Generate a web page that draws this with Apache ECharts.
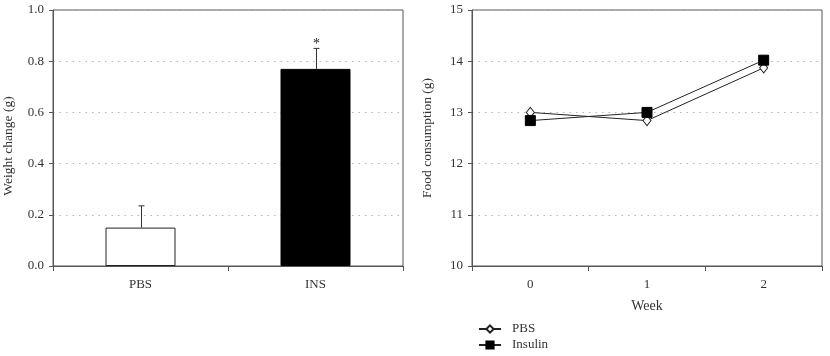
<!DOCTYPE html>
<html>
<head>
<meta charset="utf-8">
<script src="https://cdn.jsdelivr.net/npm/echarts@6/dist/echarts.min.js"></script>
<style>html,body{margin:0;padding:0;background:#fff}#c{width:830px;height:356px}</style>
</head>
<body>
<div id="c"></div>
<script>
// ---- data ----
const barCats = ['PBS', 'INS'];
const weightMean = [0.15, 0.77];
const weightErr = [0.085, 0.08];
const sigMarks = ['', '*'];
const weightTicks = [0.0, 0.2, 0.4, 0.6, 0.8, 1.0];

const weeks = ['0', '1', '2'];
const pbsFood = [13.0, 12.84, 13.87];
const insulinFood = [12.84, 13.0, 14.02];
const foodTicks = [10, 11, 12, 13, 14, 15];

// ---- chart ----
const FONT = '"Liberation Serif", "DejaVu Serif", serif';
const AX = '#555';
const TXT = '#333';
const chart = echarts.init(document.getElementById('c'), null, {renderer: 'canvas'});

const errData = weightMean.map((m, i) => [i, m, weightErr[i], sigMarks[i]]);

const axisLine = {show: true, lineStyle: {color: AX, width: 1}};
const axisTick = {show: true, length: 4, lineStyle: {color: AX, width: 1}};
const splitLine = {show: true, lineStyle: {color: '#b5b5b5', type: [1.5, 5], width: 1.2}};
const label = {color: TXT, fontFamily: FONT, fontSize: 13};

chart.setOption({
  animation: false,
  textStyle: {fontFamily: FONT},
  grid: [
    {left: 53, right: 427, top: 10, bottom: 90, show: true, borderColor: AX, borderWidth: 1, backgroundColor: 'transparent'},
    {left: 472, right: 8, top: 10, bottom: 90, show: true, borderColor: AX, borderWidth: 1, backgroundColor: 'transparent'}
  ],
  legend: {
    orient: 'vertical', left: 478, top: 322, padding: 0,
    itemWidth: 22, itemHeight: 9, itemGap: 2,
    textStyle: {color: TXT, fontFamily: FONT, fontSize: 13, lineHeight: 14, padding: [0, 0, 0, 6]},
    data: ['PBS', 'Insulin']
  },
  xAxis: [
    {type: 'category', gridIndex: 0, data: barCats, boundaryGap: true,
     axisLine, axisTick: {...axisTick, length: 5}, axisLabel: {...label, margin: 12}, splitLine: {show: false}},
    {type: 'category', gridIndex: 1, data: weeks, boundaryGap: true,
     name: 'Week', nameLocation: 'middle', nameGap: 33,
     nameTextStyle: {color: TXT, fontFamily: FONT, fontSize: 14},
     axisLine, axisTick: {...axisTick, length: 5}, axisLabel: {...label, margin: 12}, splitLine: {show: false}}
  ],
  yAxis: [
    {type: 'value', gridIndex: 0, min: weightTicks[0], max: weightTicks[weightTicks.length - 1], interval: 0.2,
     name: 'Weight change (g)', nameLocation: 'middle', nameGap: 38,
     nameTextStyle: {color: TXT, fontFamily: FONT, fontSize: 13.5, padding: [0, 16, 0, 0]},
     axisLine, axisTick, splitLine,
     axisLabel: {...label, margin: 9, formatter: v => v.toFixed(1)}},
    {type: 'value', gridIndex: 1, min: foodTicks[0], max: foodTicks[foodTicks.length - 1], interval: 1,
     name: 'Food consumption (g)', nameLocation: 'middle', nameGap: 38,
     nameTextStyle: {color: TXT, fontFamily: FONT, fontSize: 13.5},
     axisLine, axisTick, splitLine,
     axisLabel: {...label, margin: 9}}
  ],
  series: [
    {type: 'bar', xAxisIndex: 0, yAxisIndex: 0, barWidth: 70, z: 2,
     data: weightMean.map((v, i) => ({value: v,
       itemStyle: i === 0 ? {color: '#fff', borderColor: '#222', borderWidth: 1} : {color: '#000', borderColor: '#000', borderWidth: 1}}))},
    {type: 'custom', xAxisIndex: 0, yAxisIndex: 0, z: 3, data: errData,
     renderItem: function (params, api) {
       const base = api.coord([api.value(0), api.value(1)]);
       const top = api.coord([api.value(0), api.value(1) + api.value(2)]);
       const x = Math.round(base[0]) + 0.5;
       const children = [
         {type: 'line', shape: {x1: x, y1: base[1], x2: x, y2: top[1]}, style: {stroke: '#333', lineWidth: 1}},
         {type: 'line', shape: {x1: x - 3, y1: top[1], x2: x + 3, y2: top[1]}, style: {stroke: '#333', lineWidth: 1}}
       ];
       const s = errData[params.dataIndex][3];
       if (s) {
         children.push({type: 'text', x: x, y: top[1] - 4,
           style: {text: s, fill: '#222', font: '14px ' + FONT, align: 'center', verticalAlign: 'middle'}});
       }
       return {type: 'group', children};
     }},
    {name: 'PBS', type: 'line', xAxisIndex: 1, yAxisIndex: 1, data: pbsFood,
     symbol: 'diamond', symbolSize: [8, 10], z: 3,
     lineStyle: {color: '#222', width: 1},
     itemStyle: {color: '#fff', borderColor: '#222', borderWidth: 1}},
    {name: 'Insulin', type: 'line', xAxisIndex: 1, yAxisIndex: 1, data: insulinFood,
     symbol: 'rect', symbolSize: 10, z: 4,
     lineStyle: {color: '#222', width: 1},
     itemStyle: {color: '#000', borderColor: '#000', borderWidth: 1}}
  ]
});
</script>
</body>
</html>
